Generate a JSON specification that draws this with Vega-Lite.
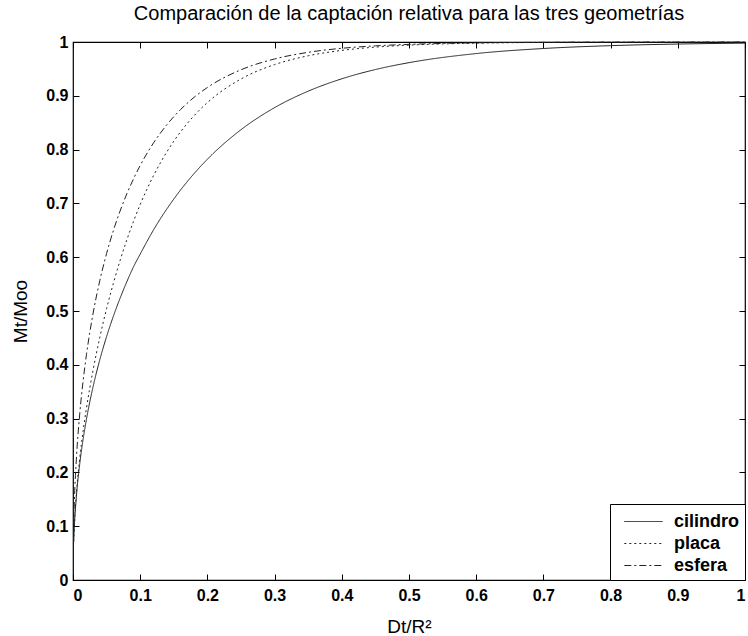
{
  "$schema": "https://vega.github.io/schema/vega-lite/v6.json",
  "width": 672,
  "height": 538,
  "autosize": {"type": "none"},
  "padding": {"left": 73, "top": 42, "right": 3, "bottom": 56},
  "background": "white",
  "title": {
    "text": "Comparación de la captación relativa para las tres geometrías",
    "font": "Liberation Sans",
    "fontSize": 20,
    "fontWeight": "normal",
    "color": "black",
    "offset": 10,
    "anchor": "middle"
  },
  "config": {
    "view": {"stroke": "black", "strokeWidth": 1.2},
    "axis": {
      "grid": false,
      "domain": false,
      "ticks": true,
      "tickColor": "black",
      "tickWidth": 1,
      "tickSize": -6,
      "labelFont": "Liberation Sans",
      "labelFontSize": 16,
      "labelFontWeight": "bold",
      "labelColor": "black",
      "titleFont": "Liberation Sans",
      "titleFontSize": 19,
      "titleFontWeight": "normal",
      "titleColor": "black"
    }
  },
  "data": {
    "values": [
      {"x": 0.001, "y": 0.0704, "g": "cilindro"},
      {"x": 0.002, "y": 0.0989, "g": "cilindro"},
      {"x": 0.005, "y": 0.1545, "g": "cilindro"},
      {"x": 0.01, "y": 0.2155, "g": "cilindro"},
      {"x": 0.015, "y": 0.2611, "g": "cilindro"},
      {"x": 0.02, "y": 0.2986, "g": "cilindro"},
      {"x": 0.03, "y": 0.3599, "g": "cilindro"},
      {"x": 0.04, "y": 0.4099, "g": "cilindro"},
      {"x": 0.05, "y": 0.4525, "g": "cilindro"},
      {"x": 0.06, "y": 0.49, "g": "cilindro"},
      {"x": 0.07, "y": 0.5236, "g": "cilindro"},
      {"x": 0.08, "y": 0.5541, "g": "cilindro"},
      {"x": 0.09, "y": 0.582, "g": "cilindro"},
      {"x": 0.1, "y": 0.6058, "g": "cilindro"},
      {"x": 0.12, "y": 0.6511, "g": "cilindro"},
      {"x": 0.14, "y": 0.6903, "g": "cilindro"},
      {"x": 0.16, "y": 0.7248, "g": "cilindro"},
      {"x": 0.18, "y": 0.7552, "g": "cilindro"},
      {"x": 0.2, "y": 0.7821, "g": "cilindro"},
      {"x": 0.25, "y": 0.837, "g": "cilindro"},
      {"x": 0.3, "y": 0.878, "g": "cilindro"},
      {"x": 0.35, "y": 0.9086, "g": "cilindro"},
      {"x": 0.4, "y": 0.9316, "g": "cilindro"},
      {"x": 0.45, "y": 0.9488, "g": "cilindro"},
      {"x": 0.5, "y": 0.9616, "g": "cilindro"},
      {"x": 0.6, "y": 0.9785, "g": "cilindro"},
      {"x": 0.7, "y": 0.9879, "g": "cilindro"},
      {"x": 0.8, "y": 0.9932, "g": "cilindro"},
      {"x": 0.9, "y": 0.9962, "g": "cilindro"},
      {"x": 1.0, "y": 0.9979, "g": "cilindro"},
      {"x": 0.001, "y": 0.0714, "g": "placa"},
      {"x": 0.002, "y": 0.1009, "g": "placa"},
      {"x": 0.005, "y": 0.1596, "g": "placa"},
      {"x": 0.01, "y": 0.2257, "g": "placa"},
      {"x": 0.015, "y": 0.2764, "g": "placa"},
      {"x": 0.02, "y": 0.3192, "g": "placa"},
      {"x": 0.03, "y": 0.3909, "g": "placa"},
      {"x": 0.04, "y": 0.4514, "g": "placa"},
      {"x": 0.05, "y": 0.5046, "g": "placa"},
      {"x": 0.06, "y": 0.5512, "g": "placa"},
      {"x": 0.07, "y": 0.5936, "g": "placa"},
      {"x": 0.08, "y": 0.6319, "g": "placa"},
      {"x": 0.09, "y": 0.6665, "g": "placa"},
      {"x": 0.1, "y": 0.6979, "g": "placa"},
      {"x": 0.12, "y": 0.752, "g": "placa"},
      {"x": 0.14, "y": 0.7964, "g": "placa"},
      {"x": 0.16, "y": 0.8329, "g": "placa"},
      {"x": 0.18, "y": 0.8628, "g": "placa"},
      {"x": 0.2, "y": 0.8874, "g": "placa"},
      {"x": 0.25, "y": 0.9313, "g": "placa"},
      {"x": 0.3, "y": 0.958, "g": "placa"},
      {"x": 0.35, "y": 0.9744, "g": "placa"},
      {"x": 0.4, "y": 0.9844, "g": "placa"},
      {"x": 0.45, "y": 0.9905, "g": "placa"},
      {"x": 0.5, "y": 0.9942, "g": "placa"},
      {"x": 0.6, "y": 0.9978, "g": "placa"},
      {"x": 0.7, "y": 0.9992, "g": "placa"},
      {"x": 0.8, "y": 0.9997, "g": "placa"},
      {"x": 0.9, "y": 0.9999, "g": "placa"},
      {"x": 1.0, "y": 1.0, "g": "placa"},
      {"x": 0.001, "y": 0.104, "g": "esfera"},
      {"x": 0.002, "y": 0.1454, "g": "esfera"},
      {"x": 0.005, "y": 0.2244, "g": "esfera"},
      {"x": 0.01, "y": 0.3085, "g": "esfera"},
      {"x": 0.015, "y": 0.3696, "g": "esfera"},
      {"x": 0.02, "y": 0.4187, "g": "esfera"},
      {"x": 0.03, "y": 0.4963, "g": "esfera"},
      {"x": 0.04, "y": 0.557, "g": "esfera"},
      {"x": 0.05, "y": 0.6069, "g": "esfera"},
      {"x": 0.06, "y": 0.6492, "g": "esfera"},
      {"x": 0.07, "y": 0.6856, "g": "esfera"},
      {"x": 0.08, "y": 0.7175, "g": "esfera"},
      {"x": 0.09, "y": 0.7455, "g": "esfera"},
      {"x": 0.1, "y": 0.7705, "g": "esfera"},
      {"x": 0.12, "y": 0.8127, "g": "esfera"},
      {"x": 0.14, "y": 0.8467, "g": "esfera"},
      {"x": 0.16, "y": 0.8744, "g": "esfera"},
      {"x": 0.18, "y": 0.897, "g": "esfera"},
      {"x": 0.2, "y": 0.9155, "g": "esfera"},
      {"x": 0.25, "y": 0.9484, "g": "esfera"},
      {"x": 0.3, "y": 0.9685, "g": "esfera"},
      {"x": 0.35, "y": 0.9808, "g": "esfera"},
      {"x": 0.4, "y": 0.9883, "g": "esfera"},
      {"x": 0.45, "y": 0.9928, "g": "esfera"},
      {"x": 0.5, "y": 0.9956, "g": "esfera"},
      {"x": 0.6, "y": 0.9984, "g": "esfera"},
      {"x": 0.7, "y": 0.9994, "g": "esfera"},
      {"x": 0.8, "y": 0.9998, "g": "esfera"},
      {"x": 0.9, "y": 0.9999, "g": "esfera"},
      {"x": 1.0, "y": 1.0, "g": "esfera"}
    ]
  },
  "layer": [
    {
      "mark": {"type": "line", "strokeWidth": 1, "color": "#222", "interpolate": "monotone"},
      "encoding": {
        "x": {
          "field": "x", "type": "quantitative",
          "scale": {"domain": [0, 1], "nice": false, "zero": false},
          "axis": {
            "orient": "bottom",
            "values": [0, 0.1, 0.2, 0.3, 0.4, 0.5, 0.6, 0.7, 0.8, 0.9, 1],
            "format": "~g",
            "labelPadding": 13,
            "title": "Dt/R²",
            "titleY": 52,
            "titleBaseline": "alphabetic"
          }
        },
        "y": {
          "field": "y", "type": "quantitative",
          "scale": {"domain": [0, 1], "nice": false, "zero": false},
          "axis": {
            "orient": "left",
            "values": [0, 0.1, 0.2, 0.3, 0.4, 0.5, 0.6, 0.7, 0.8, 0.9, 1],
            "format": "~g",
            "labelPadding": 11,
            "title": "Mt/Moo",
            "titleX": -53,
            "titleY": 269,
            "titleBaseline": "middle",
            "titleAngle": -90
          }
        },
        "strokeDash": {
          "field": "g", "type": "nominal",
          "scale": {"domain": ["cilindro", "placa", "esfera"], "range": [[1, 0], [2, 3], [7, 3, 2, 3]]},
          "legend": {
            "title": null,
            "orient": "bottom-right",
            "offset": 0,
            "padding": 5,
            "strokeColor": "black",
            "fillColor": "white",
            "symbolType": "M-1.6,0H1.6",
            "symbolSize": 576,
            "symbolOffset": 16,
            "symbolFillColor": "transparent",
            "symbolStrokeColor": "#222",
            "symbolStrokeWidth": 1,
            "rowPadding": 0,
            "labelFont": "Liberation Sans",
            "labelFontSize": 18,
            "labelFontWeight": "bold",
            "labelColor": "black",
            "labelOffset": 18
          }
        }
      }
    },
    {
      "mark": {"type": "line", "strokeOpacity": 0},
      "encoding": {
        "x": {
          "field": "x", "type": "quantitative",
          "axis": {"orient": "top", "values": [0, 0.1, 0.2, 0.3, 0.4, 0.5, 0.6, 0.7, 0.8, 0.9, 1], "labels": false, "title": null}
        },
        "y": {
          "field": "y", "type": "quantitative",
          "axis": {"orient": "right", "values": [0, 0.1, 0.2, 0.3, 0.4, 0.5, 0.6, 0.7, 0.8, 0.9, 1], "labels": false, "title": null}
        },
        "detail": {"field": "g", "type": "nominal"}
      }
    }
  ],
  "resolve": {"axis": {"x": "independent", "y": "independent"}}
}
